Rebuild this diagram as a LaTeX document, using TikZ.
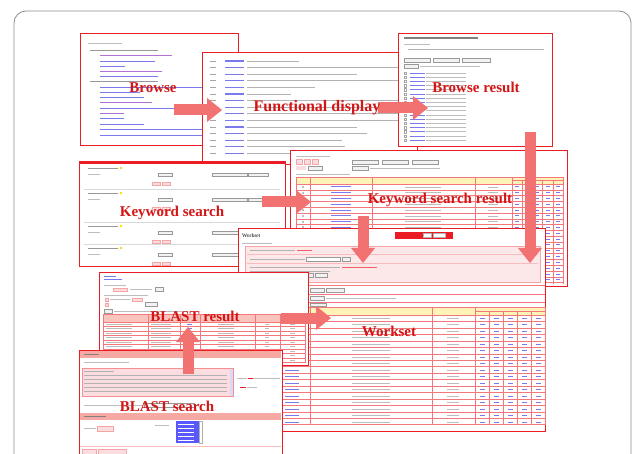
\documentclass[tikz,border=0pt]{standalone}
\usepackage{fontspec}
\setmainfont{Liberation Serif}
\usetikzlibrary{arrows.meta}
\definecolor{pred}{HTML}{EC1C24}
\definecolor{lab}{HTML}{D41515}
\definecolor{arw}{HTML}{F27272}
\definecolor{lnk}{HTML}{7A7AEE}
\definecolor{vis}{HTML}{B470D4}
\definecolor{txt}{HTML}{BDBDBD}
\definecolor{hdr}{HTML}{FFF3B8}
\definecolor{pnk}{HTML}{FBDDE0}
\definecolor{salm}{HTML}{F6A9A2}
\definecolor{framec}{HTML}{8C8C8C}
\tikzset{
  panel/.style={draw=pred,fill=white,line width=1.1pt,anchor=north west,inner sep=0pt},
  title/.style={font=\bfseries\fontsize{15}{15}\selectfont,text=lab,inner sep=1pt},
  bigarrow/.style={-{Triangle[width=24pt,length=15pt,line width=0pt]},line width=11pt,color=arw},
  txtline/.style={line width=0.8pt,color=txt},
  lnkline/.style={line width=0.9pt,color=lnk},
  tgrid/.style={line width=0.4pt,color=pred!60},
  btn/.style={draw=black!40,fill=black!5,line width=0.4pt},
  pbtn/.style={draw=pred!40,fill=pnk,line width=0.4pt}
}
\begin{document}
\begin{tikzpicture}[x=1pt,y=-1pt]
  \useasboundingbox (0,0) rectangle (634,454);
  \clip (0,0) rectangle (634,454);
  \draw[framec,line width=0.8pt,rounded corners=12pt] (14,470) -- (14,11) -- (631,11) -- (631,470);

  % browse page
  \node[panel,minimum width=158,minimum height=112] (browse) at (80,33) {};
  \draw[txtline] (88,43) -- ++(34,0);
  \draw[txtline,color=black!40] (90,50) -- ++(68,0);
  \foreach \y/\l/\c in {55/72/vis,61/55/lnk,66/25/lnk,71/62/vis,76/58/lnk}
    {\draw[lnkline,color=\c] (100,\y) -- ++(\l,0);}
  \draw[txtline,color=black!40] (90,81) -- ++(68,0);
  \foreach \y/\l/\c in {87/110/lnk,92/40/lnk,97/44/lnk,102/52/vis,108/110/lnk,113/24/vis,118/24/lnk,124/44/lnk,129/110/lnk,135/110/lnk}
    {\draw[lnkline,color=\c] (100,\y) -- ++(\l,0);}

  % functional display page
  \node[panel,minimum width=215,minimum height=112] (fd) at (202,52) {};
  \foreach \l [count=\i from 0] in {52,160,110,160,68,44,160,160,160,160,110,120,95,98,70}{
    \pgfmathsetmacro\yy{61+6.6*\i}
    \draw[txtline,color=black!35] (210,\yy) -- ++(6,0);
    \draw[lnkline,line width=1.1pt] (225,\yy) -- ++(19,0);
    \draw[txtline,color=black!30] (247,\yy) -- ++(\l,0);
  }

  % browse result page
  \node[panel,minimum width=154,minimum height=113] (bres) at (398,33) {};
  \draw[line width=1.2pt,black!50] (404,38) -- ++(74,0);
  \draw[txtline,line width=0.7pt] (404,44) -- ++(26,0);
  \draw[txtline,line width=0.8pt,color=black!30] (408,49) -- ++(136,0);
  \foreach \x/\w in {404/26,433/26,462/28}{\draw[btn] (\x,58) rectangle ++(\w,4);}
  \draw[btn] (404,64) rectangle ++(14,4);
  \draw[txtline,line width=0.7pt] (420,66) -- ++(60,0);
  \foreach \i in {0,...,16}{
    \pgfmathsetmacro\yy{73+4.2*\i}
    \draw[black!35,line width=0.3pt] (404,\yy-1.2) rectangle ++(2.4,2.4);
    \draw[lnkline,line width=0.8pt] (410,\yy) -- ++(15,0);
    \draw[txtline,line width=0.7pt] (426,\yy) -- ++(40,0);
  }

  % keyword search result page
  \node[panel,minimum width=277,minimum height=136] (ksr) at (290,150) {};
  \draw[txtline,line width=0.7pt] (296,156) -- ++(34,0);
  \foreach \x in {296,304,312}{\draw[pbtn] (\x,159) rectangle ++(6,5);}
  \fill[pnk] (296,166) rectangle ++(10,4);
  \draw[btn] (308,166) rectangle ++(14,4);
  \foreach \x in {352,382,412}{\draw[btn] (\x,160) rectangle ++(26,4);}
  \draw[btn] (352,166) rectangle ++(16,4);
  \draw[txtline,line width=0.7pt] (370,168) -- ++(70,0);
  \draw[txtline,line width=0.7pt] (296,174) -- ++(54,0);
  \fill[hdr] (296,177) rectangle (563,184);
  \draw[tgrid] (296,177) -- (563,177);
  \foreach \y in {184,189.8,...,284}{\draw[tgrid] (296,\y) -- (563,\y);}
  \foreach \x in {296,310,372,475,512,563}{\draw[tgrid] (\x,177) -- (\x,284);}
  \draw[tgrid] (512,180.5) -- (563,180.5);
  \foreach \x in {522.2,532.4,542.6,552.8}{\draw[tgrid] (\x,180.5) -- (\x,284);}
  \foreach \y in {186.9,192.7,...,282}{
    \fill[black!25] (302,\y-1) rectangle ++(2,2);
    \draw[lnkline,line width=0.8pt] (331,\y) -- ++(20,0);
    \draw[txtline,line width=0.6pt] (405,\y) -- ++(36,0);
    \draw[txtline,line width=0.6pt] (488,\y) -- ++(10,0);
    \foreach \c in {515,525,535,546,556}{\draw[lnkline,line width=0.8pt] (\c,\y) -- ++(4,0);}
  }

  % keyword search page
  \node[panel,minimum width=206,minimum height=105] (kws) at (79,161) {};
  \fill[pred] (79,161) rectangle (285,164.5);
  \foreach \y in {168,193,226,248}{
    \draw[black!15,line width=0.4pt] (84,\y-4) -- (280,\y-4);
    \draw[txtline,color=black!40,line width=0.7pt] (88,\y) -- ++(30,0);
    \fill[yellow!80!orange] (121,\y) circle (1.3);
    \draw[txtline,line width=0.6pt] (88,\y+6) -- ++(12,0);
    \draw[btn] (158,\y+5) rectangle ++(14,3.5);
    \draw[btn] (212,\y+5) rectangle ++(35,3.5);
    \draw[btn] (248,\y+5) rectangle ++(20,3.5);
    \draw[pbtn] (152,\y+14) rectangle ++(8,3.5);
    \draw[pbtn] (162,\y+14) rectangle ++(8,3.5);
  }
  \draw[white] (84,164) -- (280,164);

  % workset page
  \node[panel,minimum width=307,minimum height=203] (ws) at (238,228) {};
  \node[anchor=west,font=\fontsize{5.5}{5.5}\selectfont,inner sep=0pt] (wstitle) at (242,236) {Workset};
  \fill[pred] (395,232) rectangle (453,239);
  \draw[fill=white,draw=black!30,line width=0.3pt] (423,233.5) rectangle ++(8,4);
  \draw[fill=white,draw=black!30,line width=0.3pt] (433,233.5) rectangle ++(12,4);
  \draw[txtline,line width=0.6pt] (242,243) -- ++(30,0);
  \fill[pnk!70] (245,246) rectangle (540,282);
  \draw[pred!40,line width=0.5pt] (245,246) rectangle (540,282);
  \foreach \y in {254,263}{\draw[pred!30,line width=0.4pt] (247,\y) -- (538,\y);}
  \draw[txtline,color=black!30,line width=0.7pt] (250,250) -- ++(45,0);
  \draw[line width=0.7pt,pred!70] (297,250) -- ++(15,0);
  \draw[txtline,color=black!30,line width=0.7pt] (250,259) -- ++(55,0);
  \draw[btn,fill=white] (306,257) rectangle ++(34,4);
  \draw[btn] (342,257) rectangle ++(8,4);
  \draw[txtline,color=black!30,line width=0.7pt] (250,267) -- ++(90,0);
  \draw[line width=0.7pt,pred!70] (342,267) -- ++(35,0);
  \draw[txtline,color=black!30,line width=0.7pt] (250,271) -- ++(80,0);
  \draw[btn,fill=white] (270,273) rectangle ++(33,4);
  \draw[btn] (305,273) rectangle ++(8,4);
  \draw[btn] (315,273) rectangle ++(12,4);
  \foreach \y in {285,294,302}{\draw[tgrid] (238,\y) -- (545,\y);}
  \draw[btn] (310,288) rectangle ++(14,4);
  \draw[btn] (326,288) rectangle ++(18,4);
  \draw[btn] (310,296.5) rectangle ++(14,4);
  \draw[txtline,line width=0.6pt] (326,298.5) -- ++(70,0);
  \draw[btn] (310,303.5) rectangle ++(16,3);
  \fill[hdr] (282,307) rectangle (545,315);
  \draw[tgrid] (282,307) -- (545,307);
  \foreach \y in {315,321.45,...,425}{\draw[tgrid] (282,\y) -- (545,\y);}
  \foreach \x in {282,310,432,475,545}{\draw[tgrid] (\x,307) -- (\x,425);}
  \draw[tgrid] (475,311) -- (545,311);
  \foreach \x in {489,503,517,531}{\draw[tgrid] (\x,311) -- (\x,425);}
  \foreach \y in {318.2,324.7,...,423}{
    \draw[lnkline,line width=0.8pt] (285,\y) -- ++(14,0);
    \draw[txtline,line width=0.6pt] (352,\y) -- ++(38,0);
    \draw[txtline,line width=0.6pt] (447,\y) -- ++(12,0);
    \foreach \c in {480,494,508,522,536}{\draw[lnkline,line width=0.8pt] (\c,\y) -- ++(5,0);}
  }

  % BLAST result page
  \node[panel,minimum width=209,minimum height=93] (blres) at (99,272) {};
  \draw[lnkline,line width=0.7pt] (104,276) -- ++(12,0);
  \draw[lnkline,line width=0.7pt] (104,279) -- ++(18,0);
  \draw[txtline,line width=0.6pt] (104,285) -- ++(22,0);
  \draw[pbtn] (113,288) rectangle ++(14,3);
  \draw[txtline,line width=0.6pt] (130,289.5) -- ++(22,0);
  \draw[btn] (155,287.5) rectangle ++(8,4);
  \draw[txtline,line width=0.6pt] (104,295) -- ++(44,0);
  \draw[pbtn] (105,298) rectangle ++(3,3);
  \draw[pbtn] (105,303) rectangle ++(3,3);
  \draw[txtline,line width=0.6pt] (110,299.5) -- ++(20,0);
  \draw[pbtn] (132,298) rectangle ++(10,3);
  \draw[btn] (145,302.5) rectangle ++(12,4);
  \draw[btn] (104,309) rectangle ++(8,4);
  \draw[txtline,line width=0.6pt] (114,311) -- ++(70,0);
  \fill[salm!70] (103,314) rectangle (305,322);
  \foreach \y in {314,322,326.5,...,363}{\draw[tgrid] (103,\y) -- (305,\y);}
  \foreach \x in {103,148,180,200,255,280,305}{\draw[tgrid] (\x,314) -- (\x,363);}
  \foreach \y in {324.2,328.7,...,362}{
    \draw[txtline,line width=0.5pt] (106,\y) -- ++(26,0);
    \draw[txtline,line width=0.5pt] (151,\y) -- ++(20,0);
    \draw[lnkline,line width=0.5pt] (187,\y) -- ++(5,0);
    \draw[txtline,line width=0.5pt] (218,\y) -- ++(16,0);
    \draw[txtline,line width=0.5pt] (265,\y) -- ++(4,0);
    \draw[txtline,line width=0.5pt] (290,\y) -- ++(5,0);
  }

  % BLAST search page
  \node[panel,minimum width=203,minimum height=110] (blsearch) at (79,350) {};
  \fill[salm] (79.6,350.6) rectangle (281.4,357.5);
  \draw[line width=0.7pt,black!50] (84,354) -- ++(15,0);
  \draw[txtline,line width=0.6pt] (84,362) -- ++(45,0);
  \fill[pnk] (82,368) rectangle (233,396);
  \draw[pred!50,line width=0.5pt] (82,368) rectangle (233,396);
  \fill[blue!15] (229.5,368.5) rectangle (232.5,395.5);
  \draw[txtline,color=black!30,line width=0.6pt] (84,371) -- ++(30,0);
  \foreach \y in {375,379,...,393}{\draw[txtline,color=black!30,line width=0.6pt] (84,\y) -- (227,\y);}
  \draw[txtline,line width=0.6pt] (237,378) -- ++(10,0);
  \draw[line width=0.6pt,pred] (247.5,378) -- ++(5,0);
  \draw[txtline,line width=0.6pt] (253,378) -- ++(27,0);
  \draw[line width=0.6pt,pred] (240,387) -- ++(6,0);
  \draw[txtline,line width=0.6pt] (247,387) -- ++(10,0);
  \draw[txtline,line width=0.6pt] (84,405) -- ++(58,0);
  \draw[btn,fill=white] (144,403) rectangle ++(50,4);
  \fill[salm] (79.6,413) rectangle (281.4,420);
  \draw[line width=0.7pt,black!50] (84,416.5) -- ++(22,0);
  \draw[txtline,line width=0.6pt] (84,428) -- ++(12,0);
  \draw[pbtn] (97,426) rectangle ++(16,5);
  \draw[txtline,line width=0.6pt] (155,425) -- ++(14,0);
  \fill[blue!65] (176,421) rectangle (199,443);
  \draw[black!30,fill=white,line width=0.3pt] (199,421) rectangle (202,443);
  \foreach \y in {424,428,...,440}{\draw[white,line width=0.6pt] (178,\y) -- ++(16,0);}
  \draw[pred!30,line width=0.5pt] (80,446) -- (281,446);
  \draw[pbtn] (82,449) rectangle ++(14,5);
  \draw[pbtn] (98,449) rectangle ++(28,5);

  % arrows
  \coordinate (a1s) at (174,110); \coordinate (a1e) at (222,110);
  \coordinate (a2s) at (378,108); \coordinate (a2e) at (428,108);
  \coordinate (a3s) at (530,132); \coordinate (a3e) at (530,263);
  \coordinate (a4s) at (262,202); \coordinate (a4e) at (311,202);
  \coordinate (a5s) at (363,216); \coordinate (a5e) at (363,263);
  \coordinate (a6s) at (281,318); \coordinate (a6e) at (331,318);
  \coordinate (a7s) at (188,374); \coordinate (a7e) at (188,327);
  \foreach \a/\b in {a1s/a1e,a2s/a2e,a3s/a3e,a4s/a4e,a5s/a5e,a6s/a6e,a7s/a7e}
    {\draw[bigarrow] (\a) -- (\b);}

  % labels
  \node[title] (lbrowse) at (153,88) {Browse};
  \node[title,font=\bfseries\fontsize{16}{16}\selectfont] (lfd) at (317,108) {Functional display};
  \node[title] (lbres) at (476,87) {Browse result};
  \node[title] (lkws) at (172,213) {Keyword search};
  \node[title] (lksr) at (440,200) {Keyword search result};
  \node[title] (lws) at (389,331) {Workset};
  \node[title] (lblres) at (195,316) {BLAST result};
  \node[title] (lbls) at (167,406) {BLAST search};
\end{tikzpicture}
\end{document}
